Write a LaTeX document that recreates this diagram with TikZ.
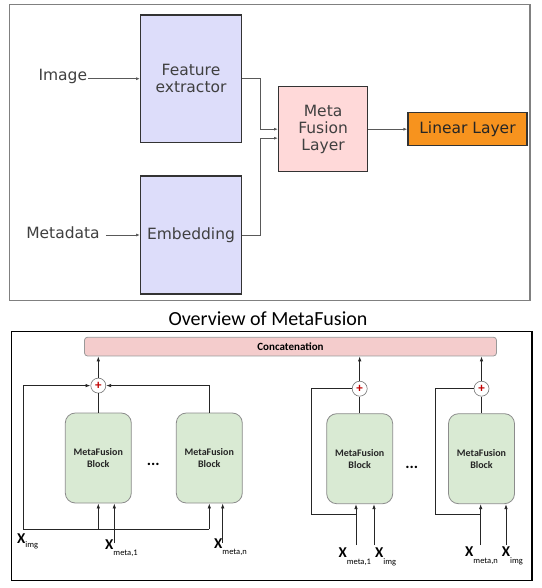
\documentclass[tikz,border=0pt]{standalone}
\usepackage{fontspec}
\setmainfont{Carlito}
\newfontfamily\dejavu{DejaVu Sans}
\usetikzlibrary{arrows.meta,calc}
\definecolor{lav}{HTML}{DDDDFA}
\definecolor{mpink}{HTML}{FFD9D9}
\definecolor{orng}{HTML}{F7931E}
\definecolor{catpink}{HTML}{F4CCCC}
\definecolor{blkgreen}{HTML}{D9EAD3}
\definecolor{txtgray}{HTML}{404040}
\definecolor{plusred}{HTML}{C00000}
\newcommand\xlab[2][6pt]{{\fontsize{15}{15}\selectfont\bfseries X}\raisebox{-#1}{\fontsize{8.5}{8.5}\selectfont #2}}
\begin{document}
\begin{tikzpicture}[x=1pt,y=-1pt,
  toptext/.style={font=\dejavu\fontsize{15.5}{17}\selectfont, text=txtgray, align=center},
  fbox/.style={toptext, draw=black!80, line width=1.2pt, fill=lav, inner sep=0pt},
  mbox/.style={toptext, draw=black!80, line width=1.2pt, fill=mpink, inner sep=0pt, minimum width=89pt, minimum height=85pt},
  lbox/.style={toptext, text=black!85, draw=black!80, line width=1.2pt, fill=orng, inner sep=0pt, minimum width=119pt, minimum height=33pt},
  lab/.style={toptext, inner sep=1pt},
  tconn/.style={draw=black!65, line width=0.9pt, -{Latex[length=4pt,width=3pt]}},
  catbox/.style={draw=black!40, line width=0.8pt, fill=catpink, rounded corners=3pt, font=\bfseries\fontsize{11}{11}\selectfont, inner sep=0pt, minimum width=412pt, minimum height=18.7pt},
  blk/.style={draw=black!45, line width=0.8pt, fill=blkgreen, rounded corners=10pt, font=\bfseries\fontsize{10}{12}\selectfont, align=center, text=black!85, inner sep=0pt, minimum width=66pt, minimum height=90pt},
  plus/.style={circle, draw=black!55, line width=0.6pt, fill=white, minimum size=15pt, inner sep=0pt, text=plusred, font=\bfseries\fontsize{13}{13}\selectfont},
  bline/.style={draw=black!85, line width=0.8pt},
  barr/.style={bline, -{Latex[length=5pt,width=3.5pt]}},
  xl/.style={anchor=base west, inner sep=0pt},
  dots/.style={font=\bfseries\fontsize{16}{16}\selectfont, inner sep=0pt}
]
\useasboundingbox (0,0) rectangle (541,588);
\fill[white] (0,0) rectangle (541,588);

% ---------- top panel ----------
\draw[draw=black!50, line width=1.5pt] (9.7,4.7) rectangle (530,300.5);
\node[fbox, minimum width=100.7pt, minimum height=127.3pt] (fe) at (191,78.7) {Feature\\extractor};
\node[fbox, minimum width=100.7pt, minimum height=118pt] (emb) at (191,235) {Embedding};
\node[mbox] (mfl) at (323.1,129.2) {Meta\\Fusion\\Layer};
\node[lbox] (lin) at (467.5,129.2) {Linear Layer};
\node[lab] (img) at (62.8,76) {Image};
\node[lab] (meta) at (63,233) {Metadata};

\draw[tconn] (img.east |- fe.west) -- (fe.west);
\draw[tconn] ([xshift=5pt]meta.east |- emb.west) -- (emb.west);
\draw[tconn] (fe.east) -- ++(18,0) |- (mfl.west);
\draw[tconn] (emb.east) -- ++(18,0) |- ([yshift=-9pt]mfl.west);
\draw[tconn] (mfl) -- (lin);

% ---------- title ----------
\node[font=\fontsize{20}{20}\selectfont, inner sep=0pt] (title) at (268,318.5) {Overview of MetaFusion};

% ---------- bottom panel ----------
\draw[draw=black, line width=1.5pt] (11.5,331.7) rectangle (532,580.5);
\node[catbox] (cat) at (290.5,346.6) {Concatenation};

\node[blk] (b1) at (98.3,458) {MetaFusion\\Block};
\node[blk] (b2) at (209.3,458) {MetaFusion\\Block};
\node[blk] (b3) at (359.7,458.7) {MetaFusion\\Block};
\node[blk] (b4) at (481.5,458.7) {MetaFusion\\Block};

\node[plus] (p1) at (98.3,385.6) {+};
\node[plus] (p3) at (359.7,388.7) {+};
\node[plus] (p4) at (481.5,388.7) {+};

\node[dots] (d1) at (153.3,464) {...};
\node[dots] (d2) at (411.7,467) {...};

% left group
\coordinate (s1) at (23.3,529.3);
\coordinate (m1) at (114.3,543);
\coordinate (mn) at (222.7,543);
\draw[barr] (p1.north) -- (p1.north |- cat.south);
\draw[bline] (b1.north) -- (p1.south);
\draw[barr] (b2.north) |- (p1.east);
\draw[barr] (s1) |- (p1.west);
\draw[bline] (s1) -- (s1 -| b2.south);
\draw[barr] (s1 -| b1.south) -- (b1.south);
\draw[barr] (s1 -| b2.south) -- (b2.south);
\draw[barr] (m1) -- (m1 |- b1.south);
\draw[barr] (mn) -- (mn |- b2.south);

% right group 1
\coordinate (l3) at (311.7,514);
\coordinate (a3) at (356,545);
\coordinate (c3) at (374,545);
\draw[barr] (p3.north) -- (p3.north |- cat.south);
\draw[bline] (b3.north) -- (p3.south);
\draw[bline] (p3.west) -| (l3) -- (l3 -| a3);
\draw[barr] (a3) -- (a3 |- b3.south);
\draw[barr] (c3) -- (c3 |- b3.south);

% right group 2
\coordinate (l4) at (435,514);
\coordinate (a4) at (480.7,545);
\coordinate (c4) at (506,545);
\draw[barr] (p4.north) -- (p4.north |- cat.south);
\draw[bline] (b4.north) -- (p4.south);
\draw[bline] (p4.west) -| (l4) -- (l4 -| a4);
\draw[barr] (a4) -- (a4 |- b4.south);
\draw[barr] (c4) -- (c4 |- b4.south);

% labels
\node[xl] (ximg) at (17,543) {\xlab[4pt]{img}};
\node[xl] (xm1) at (105,549) {\xlab{meta,1}};
\node[xl] (xmn) at (214,548) {\xlab{meta,n}};
\node[xl] (xm1r) at (338.3,557) {\xlab[7pt]{meta,1}};
\node[xl] (ximgr1) at (375,557) {\xlab[7pt]{img}};
\node[xl] (xmnr) at (465,556.7) {\xlab[7pt]{meta,n}};
\node[xl] (ximgr2) at (501.7,556.7) {\xlab[7pt]{img}};
\end{tikzpicture}
\end{document}
